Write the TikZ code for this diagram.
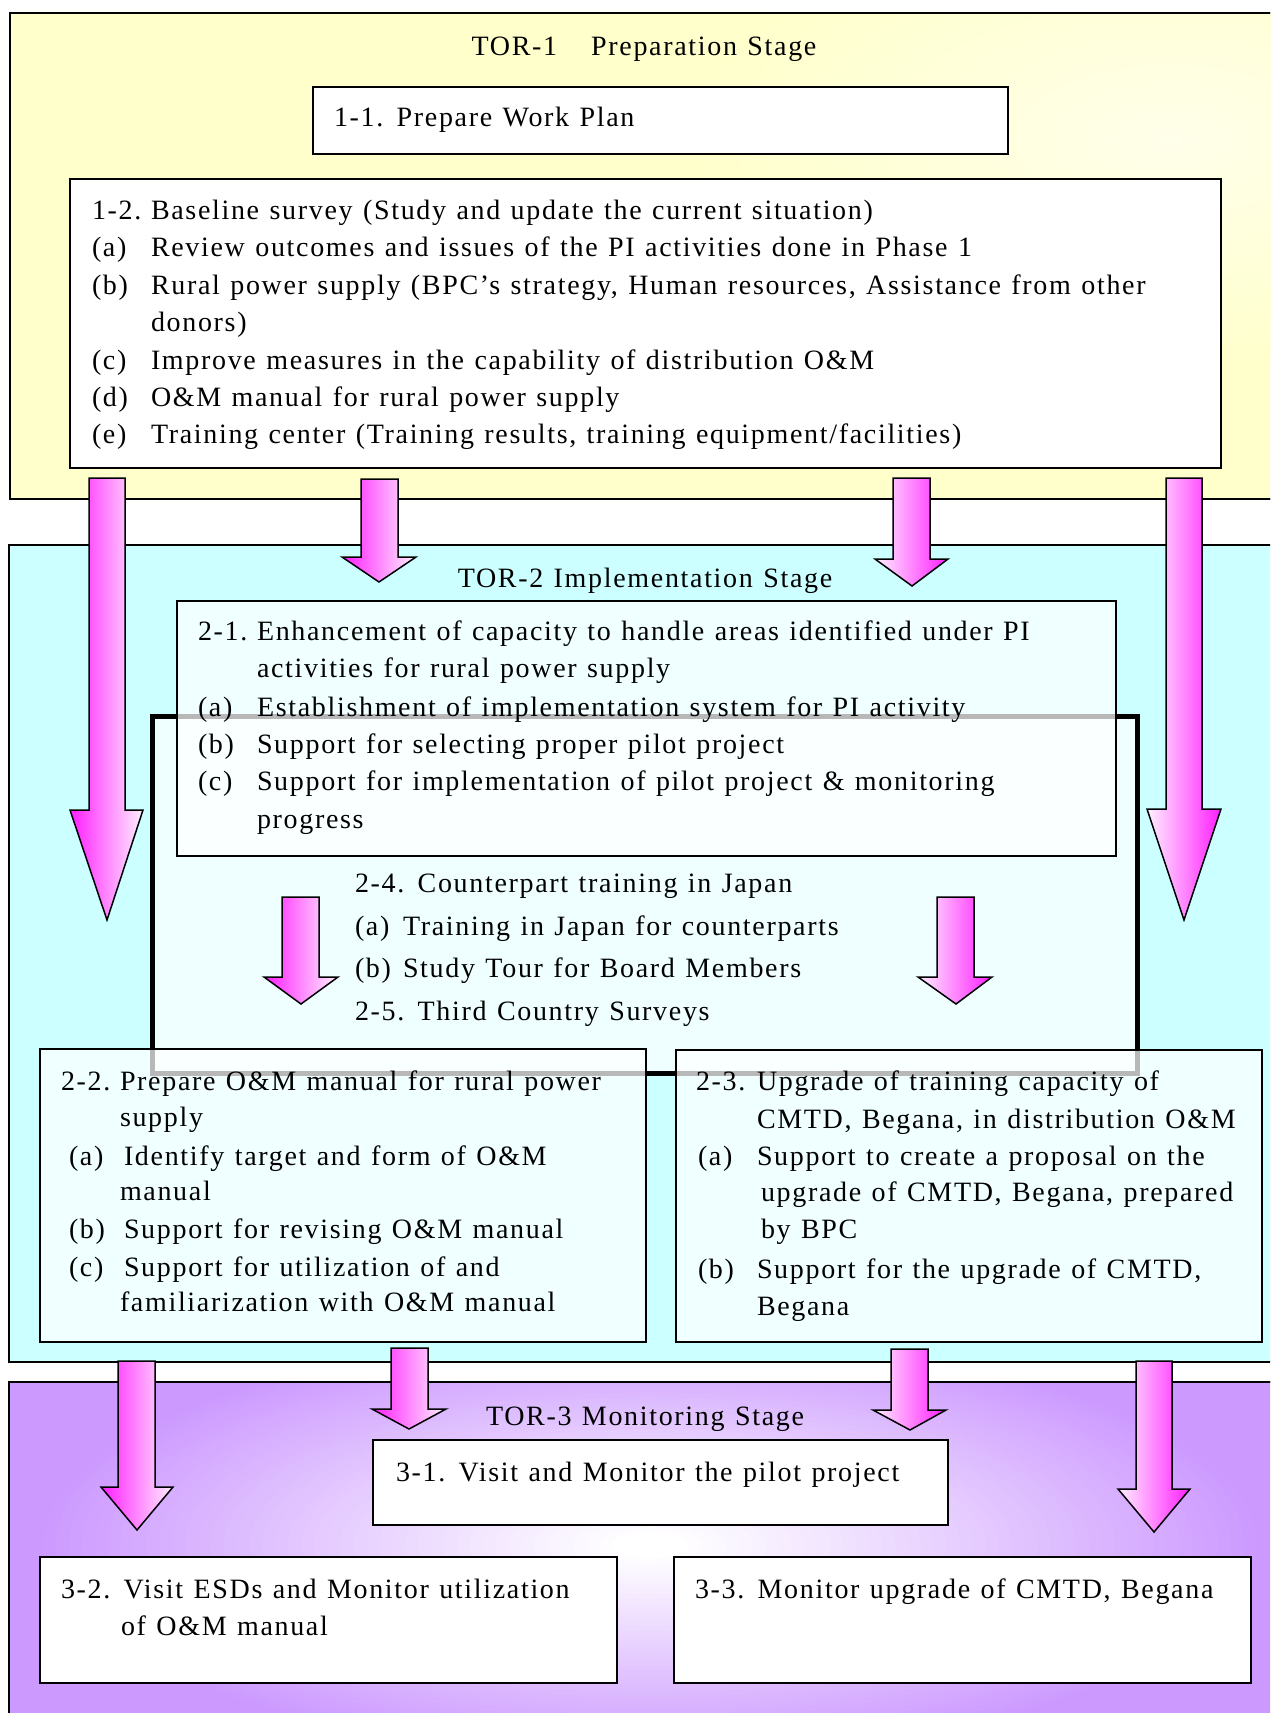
\documentclass[tikz,border=0pt]{standalone}
\usepackage{fontspec}
\setmainfont{Liberation Serif}[LetterSpace=6, WordSpace=1.2]
\definecolor{torone}{RGB}{255,255,204}
\definecolor{tortwo}{RGB}{204,255,255}
\definecolor{purp}{RGB}{204,153,255}
\definecolor{mag}{RGB}{255,30,255}
\definecolor{pinkw}{RGB}{255,240,255}
\newcommand\fs{\fontsize{28}{32}\selectfont}
\newcommand\tline[4]{\node[txt] (#1) at (#2,#3) {#4};}
\newcommand\blockarrow[9]{\path[#1] (#2,#4) -- (#3,#4) -- (#3,#5) -- (#7,#5) -- (#8,#9) -- (#6,#5) -- (#2,#5) -- cycle;}
\tikzset{
  panel/.style={draw=black, line width=2pt, anchor=north west, inner sep=0pt, outer sep=0pt},
  wbox/.style={draw=black, line width=1.8pt, fill=white, anchor=north west, inner sep=0pt, outer sep=0pt},
  tbox/.style={draw=black, line width=1.8pt, fill=white, fill opacity=0.72, anchor=north west, inner sep=0pt, outer sep=0pt},
  frame/.style={draw=black, line width=5pt, fill=white, fill opacity=0.7, anchor=north west, inner sep=0pt, outer sep=0pt},
  txt/.style={anchor=base west, inner sep=0pt, outer sep=0pt, font=\fs},
  ttl/.style={anchor=base, inner sep=0pt, outer sep=0pt, font=\fs},
  arrL/.style={draw=black, line width=1.5pt, line join=miter, left color=mag, right color=pinkw},
  arrR/.style={draw=black, line width=1.5pt, line join=miter, left color=pinkw, right color=mag}
}
\begin{document}
\begin{tikzpicture}[x=1pt,y=-1pt]
\useasboundingbox (0,0) rectangle (1270,1713);
\fill[white] (0,0) rectangle (1270,1713);
\clip (0,0) rectangle (1270,1713);
% ---------- panels ----------
\node[panel, fill=torone, minimum width=1280pt, minimum height=486pt] (p1) at (10,13) {};
\begin{scope}
  \clip (p1.north west) rectangle (p1.south east);
  \foreach \i in {0,...,39}{
    \pgfmathsetmacro\r{1-\i/40}
    \pgfmathsetmacro\pc{100-60*(1-\r)}
    \pgfmathsetmacro\rx{480*\r}
    \pgfmathsetmacro\ry{230*\r}
    \fill[torone!\pc!white] (1170,140) ellipse [x radius=\rx pt, y radius=\ry pt];
  }
\end{scope}
\draw[line width=2pt] (p1.north west) rectangle (p1.south east);
\node[panel, fill=tortwo, minimum width=1281pt, minimum height=817pt] (p2) at (9,545) {};
\node[panel, fill=purp, minimum width=1281pt, minimum height=360pt] (p3) at (9,1382) {};
\begin{scope}
  \clip (p3.north west) rectangle (p3.south east);
  \foreach \i in {0,...,47}{
    \pgfmathsetmacro\r{1-\i/48}
    \pgfmathsetmacro\pc{min(100,max(0,100*(\r-0.06)/0.94))}
    \pgfmathsetmacro\rx{620*\r}
    \pgfmathsetmacro\ry{215*\r}
    \fill[purp!\pc!white] (650,1545) ellipse [x radius=\rx pt, y radius=\ry pt];
  }
\end{scope}
\draw[line width=2pt] (p3.north west) rectangle (p3.south east);
% ---------- TOR-1 ----------
\node[ttl] (t1) at (644,55) {TOR-1\hspace{34pt}Preparation Stage};
\node[wbox, minimum width=695pt, minimum height=67pt] (n11) at (313,87) {};
\tline{n11a}{334}{126}{1-1. Prepare Work Plan}
\node[wbox, minimum width=1151pt, minimum height=289pt] (n12) at (70,179) {};
\tline{n12h}{92}{219}{1-2.}
\tline{n12h2}{151}{219}{Baseline survey (Study and update the current situation)}
\tline{n12al}{92}{256}{(a)}
\tline{n12a}{151}{256}{Review outcomes and issues of the PI activities done in Phase 1}
\tline{n12bl}{92}{294}{(b)}
\tline{n12b}{151}{294}{Rural power supply (BPC’s strategy, Human resources, Assistance from other}
\tline{n12b2}{151}{331}{donors)}
\tline{n12cl}{92}{369}{(c)}
\tline{n12c}{151}{369}{Improve measures in the capability of distribution O\&M}
\tline{n12dl}{92}{406}{(d)}
\tline{n12d}{151}{406}{O\&M manual for rural power supply}
\tline{n12el}{92}{443}{(e)}
\tline{n12e}{151}{443}{Training center (Training results, training equipment/facilities)}
% ---------- TOR-2 ----------
\node[ttl] (t2) at (645,587) {TOR-2 Implementation Stage};
\node[frame, minimum width=985pt, minimum height=357pt] (n24) at (152,716) {};
\node[tbox, minimum width=939pt, minimum height=255pt] (n21) at (177,601) {};
\tline{n21h}{198}{640}{2-1.}
\tline{n21h2}{257}{640}{Enhancement of capacity to handle areas identified under PI}
\tline{n21h3}{257}{677}{activities for rural power supply}
\tline{n21al}{198}{716}{(a)}
\tline{n21a}{257}{716}{Establishment of implementation system for PI activity}
\tline{n21bl}{198}{753}{(b)}
\tline{n21b}{257}{753}{Support for selecting proper pilot project}
\tline{n21cl}{198}{790}{(c)}
\tline{n21c}{257}{790}{Support for implementation of pilot project \& monitoring}
\tline{n21c2}{257}{828}{progress}
\tline{n24h}{355}{892}{2-4. Counterpart training in Japan}
\tline{n24al}{355}{935}{(a)}
\tline{n24a}{403}{935}{Training in Japan for counterparts}
\tline{n24bl}{355}{977}{(b)}
\tline{n24b}{403}{977}{Study Tour for Board Members}
\tline{n25h}{355}{1020}{2-5. Third Country Surveys}
\node[tbox, minimum width=606pt, minimum height=293pt] (n22) at (40,1049) {};
\tline{n22h}{61}{1090}{2-2.}
\tline{n22h2}{120}{1090}{Prepare O\&M manual for rural power}
\tline{n22h3}{120}{1126}{supply}
\tline{n22al}{69}{1165}{(a)}
\tline{n22a}{124}{1165}{Identify target and form of O\&M}
\tline{n22a2}{120}{1200}{manual}
\tline{n22bl}{69}{1238}{(b)}
\tline{n22b}{124}{1238}{Support for revising O\&M manual}
\tline{n22cl}{69}{1276}{(c)}
\tline{n22c}{124}{1276}{Support for utilization of and}
\tline{n22c2}{120}{1311}{familiarization with O\&M manual}
\node[tbox, minimum width=586pt, minimum height=292pt] (n23) at (676,1050) {};
\tline{n23h}{696}{1090}{2-3.}
\tline{n23h2}{757}{1090}{Upgrade of training capacity of}
\tline{n23h3}{757}{1128}{CMTD, Begana, in distribution O\&M}
\tline{n23al}{698}{1165}{(a)}
\tline{n23a}{757}{1165}{Support to create a proposal on the}
\tline{n23a2}{761}{1201}{upgrade of CMTD, Begana, prepared}
\tline{n23a3}{761}{1238}{by BPC}
\tline{n23bl}{698}{1278}{(b)}
\tline{n23b}{757}{1278}{Support for the upgrade of CMTD,}
\tline{n23b2}{757}{1315}{Begana}
% ---------- TOR-3 ----------
\node[ttl] (t3) at (645,1425) {TOR-3 Monitoring Stage};
\node[wbox, minimum width=575pt, minimum height=85pt] (n31) at (373,1440) {};
\tline{n31a}{396}{1481}{3-1. Visit and Monitor the pilot project}
\node[wbox, minimum width=577pt, minimum height=126pt] (n32) at (40,1557) {};
\tline{n32a}{61}{1598}{3-2. Visit ESDs and Monitor utilization}
\tline{n32b}{121}{1635}{of O\&M manual}
\node[wbox, minimum width=577pt, minimum height=126pt] (n33) at (674,1557) {};
\tline{n33a}{695}{1598}{3-3. Monitor upgrade of CMTD, Begana}
% ---------- block arrows ----------
\blockarrow{arrL}{89}{125}{478}{810}{70}{143}{107}{920}
\blockarrow{arrL}{361}{398}{479}{557}{342}{416}{379}{582}
\blockarrow{arrR}{893}{930}{478}{559}{875}{948}{912}{586}
\blockarrow{arrR}{1166}{1202}{478}{809}{1147}{1221}{1184}{920}
\blockarrow{arrL}{282}{319}{897}{977}{264}{338}{301}{1004}
\blockarrow{arrR}{937}{974}{897}{977}{918}{992}{956}{1004}
\blockarrow{arrL}{118}{155}{1361}{1487}{101}{173}{137}{1530}
\blockarrow{arrL}{391}{428}{1348}{1409}{372}{446}{409}{1429}
\blockarrow{arrR}{891}{928}{1349}{1410}{873}{946}{910}{1430}
\blockarrow{arrR}{1136}{1172}{1361}{1489}{1118}{1190}{1154}{1532}
\end{tikzpicture}
\end{document}
